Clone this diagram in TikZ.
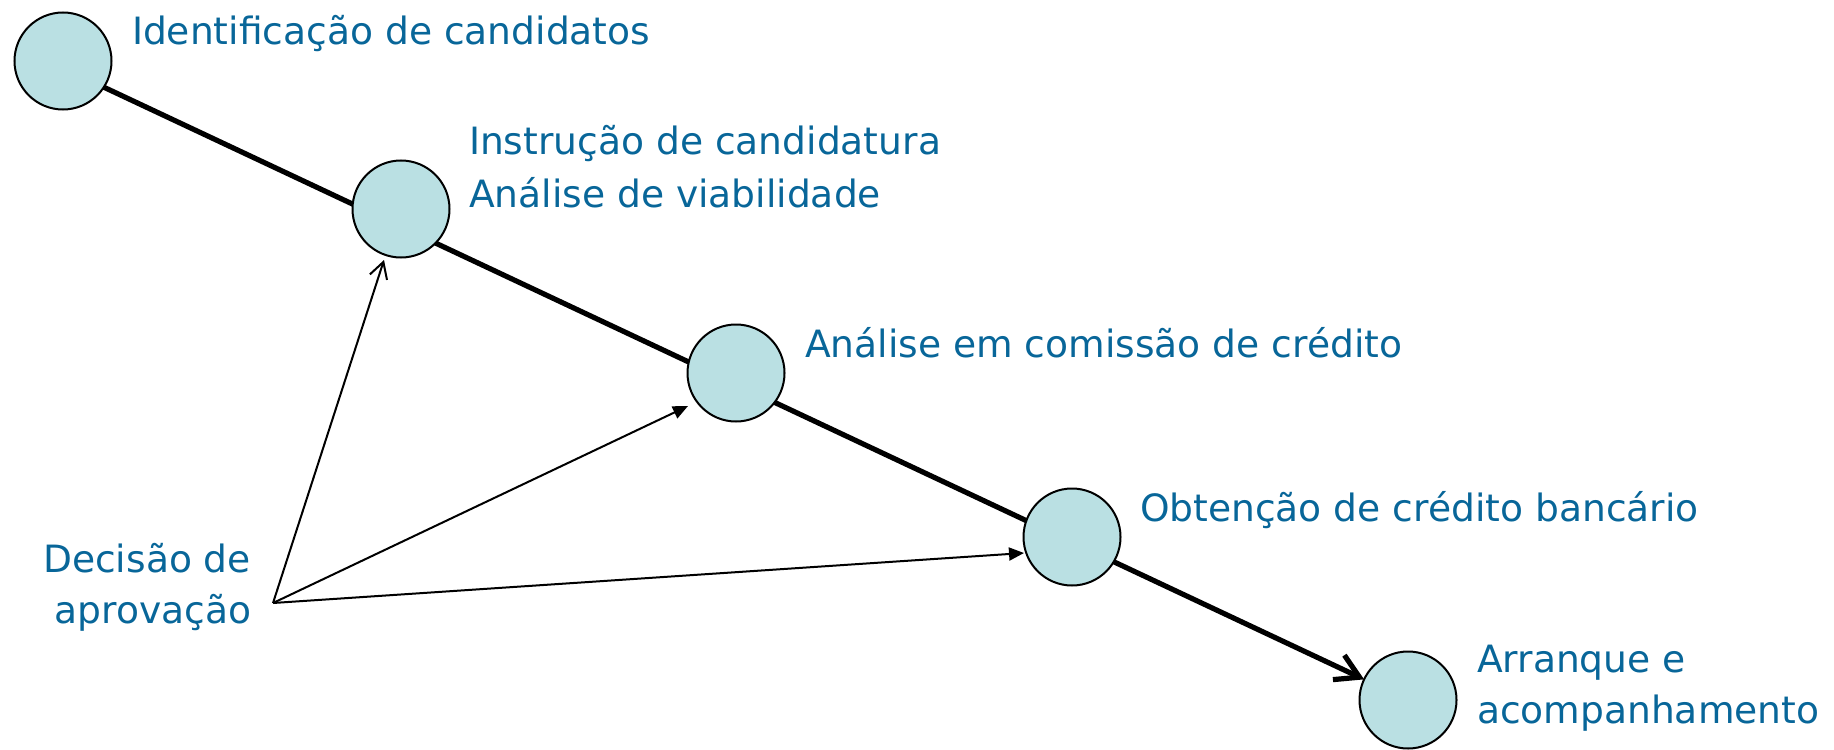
\documentclass[tikz,border=0pt]{standalone}
\usepackage{fontspec}
\setmainfont{DejaVu Sans}
\usetikzlibrary{arrows.meta,backgrounds}
\definecolor{circfill}{RGB}{186,224,227}
\definecolor{txtblue}{RGB}{8,102,153}
\begin{document}
\begin{tikzpicture}[x=0.5pt,y=-0.5pt,
  stage/.style={circle,draw=black,line width=1pt,fill=circfill,minimum size=48.5pt,inner sep=0pt,outer sep=0pt},
  lbl/.style={text=txtblue,inner sep=0pt,outer sep=0pt,font=\fontsize{18.8}{23}\selectfont},
  mainline/.style={line width=2.6pt,-{Straight Barb[length=11.5pt,width=13.5pt]}},
  openarrow/.style={line width=1pt,-{Straight Barb[length=8pt,width=9pt]}},
  fillarrow/.style={line width=1pt,-{Triangle[length=7.5pt,width=6.5pt]}}]
\useasboundingbox (0,0) rectangle (1834,749);
% stages
\node[stage] (c1) at (63,61) {};
\node[stage] (c2) at (401,209) {};
\node[stage] (c3) at (736,373) {};
\node[stage] (c4) at (1072,537) {};
\node[stage] (c5) at (1408,700) {};
% labels
\node[lbl,anchor=base west] (l1) at (132,45) {Identificação de candidatos};
\node[lbl,anchor=base west] (l2a) at (469,155) {Instrução de candidatura};
\node[lbl,anchor=base west] (l2b) at (469,207) {Análise de viabilidade};
\node[lbl,anchor=base west] (l3) at (805,357) {Análise em comissão de crédito};
\node[lbl,anchor=base west] (l4) at (1140,521) {Obtenção de crédito bancário};
\node[lbl,anchor=base west] (l5a) at (1477,672) {Arranque e};
\node[lbl,anchor=base west] (l5b) at (1477,723) {acompanhamento};
\node[lbl,anchor=base east] (dA) at (251,572) {Decisão de};
\node[lbl,anchor=base east] (dB) at (251,623) {aprovação};
% main process line
\coordinate (s) at (63,68);
\begin{pgfonlayer}{background}
\draw[mainline] (s) -- (c5);
\end{pgfonlayer}
% decision arrows
\coordinate (d) at (273,603);
\coordinate (t2) at (384,260);
\coordinate (t3) at (688,406);
\coordinate (t4) at (1024,553);
\draw[openarrow] (d) -- (t2);
\draw[fillarrow] (d) -- (t3);
\draw[fillarrow] (d) -- (t4);
\end{tikzpicture}
\end{document}
